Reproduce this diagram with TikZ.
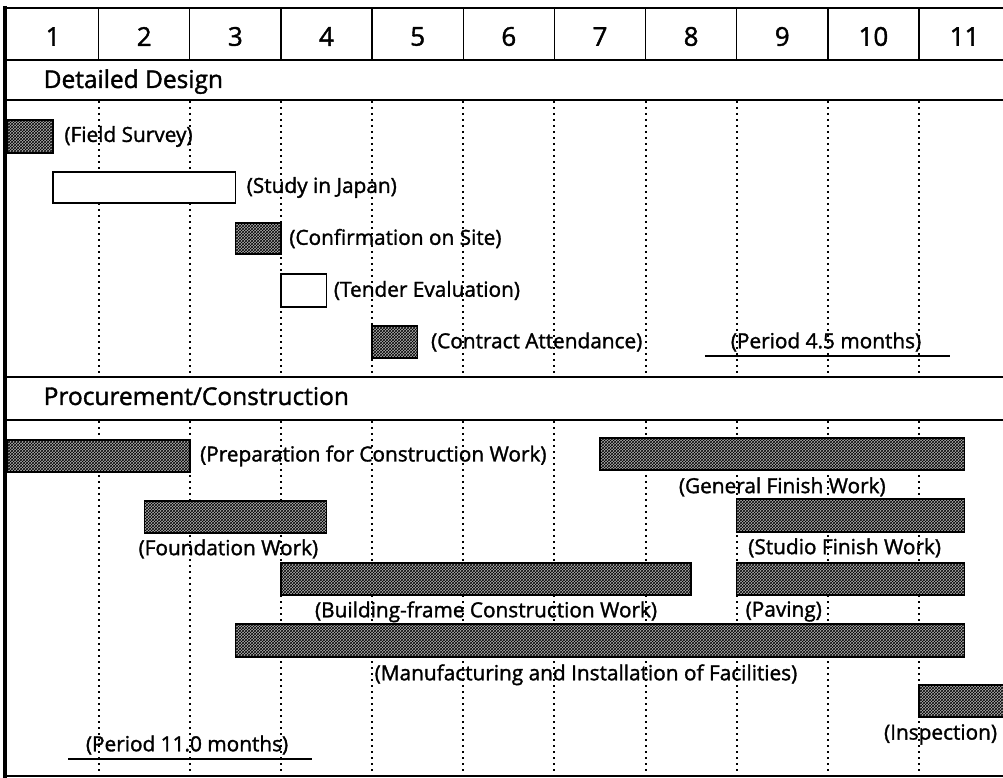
\documentclass[tikz,border=0pt]{standalone}
\usepackage{fontspec}
\setmainfont{Open Sans}[FakeBold=1.5]
\usetikzlibrary{positioning,fit,patterns}

\tikzset{
  hbar/.style={draw, line width=1.4pt, inner sep=0pt, preaction={fill=gray!62},
    pattern=crosshatch, pattern color=black},
  wbar/.style={draw, line width=1.4pt, inner sep=0pt, fill=white},
  lbl/.style={inner sep=1pt, font=\fontsize{20.8}{23}\selectfont},
  head/.style={inner sep=0pt, anchor=base west, font=\fontsize{24.5}{27}\selectfont},
  monthline/.style={line width=2pt, dash pattern=on 2pt off 4pt},
}

\begin{document}
\begin{tikzpicture}[x=91.15pt,y=-1pt,line width=1.3pt]
		\useasboundingbox (-0.0823,0) rectangle (10.9216,778);
		% frame and header
		\draw[line width=4pt] (-0.022,6) -- (-0.022,778);
		\draw (-0.022,8) -- (10.93,8);
		\foreach \y in {60,100,377,420,776}
		\draw (-0.022,\y) -- (10.93,\y);
		\foreach \m in {1,...,10}
		{
			\draw (\m,8) -- (\m,60);
			\draw[monthline] (\m,101) -- (\m,376);
			\draw[monthline] (\m,421) -- (\m,775);
		}
		\foreach \m [count=\i] in {0.5,1.5,...,10.5}
		\node[font=\fontsize{26}{28}\selectfont] (h\i) at (\m,36.5) {\i};
		
		\node[head] (dd) at (0.39,88) {Detailed Design};
		\node[head] (pc) at (0.39,405) {Procurement/Construction};
		
		% detailed design
		\node[hbar, fit={(0,120) (0.5,153)}] (fsb) {};
		\node[lbl, right=9pt of fsb] (fs) {(Field Survey)};
		\node[wbar, fit={(0.5,172) (2.5,203)}] (sjb) {};
		\node[lbl, right=9pt of sjb] (sj) {(Study in Japan)};
		\node[hbar, fit={(2.5,223) (3,254)}] (cob) {};
		\node[lbl, right=6pt of cob] (co) {(Confirmation on Site)};
		\node[wbar, fit={(3,274) (3.5,307)}] (teb) {};
		\node[lbl, right=5pt of teb] (te) {(Tender Evaluation)};
		\node[hbar, fit={(4,326) (4.5,358)}] (cab) {};
		\node[lbl, right=11pt of cab] (ca) {(Contract Attendance)};
		\node[lbl] (p1) at (8.98,342) {(Period 4.5 months)};
		\draw (7.65,356) -- (10.34,356);
		
		% procurement/construction
		\node[hbar, fit={(0,440) (2,472)}] (prb) {};
		\node[lbl, right=8pt of prb] (pr) {(Preparation for Construction Work)};
		\node[hbar, fit={(6.5,438) (10.5,470)}] (gfb) {};
		\node[lbl, below=5pt of gfb] (gf) {(General Finish Work)};
		\node[hbar, fit={(1.5,501) (3.5,533)}] (fob) {};
		\node[lbl, below=4pt of fob, xshift=-7pt] (fo) {(Foundation Work)};
		\node[hbar, fit={(8,499) (10.5,532)}] (sfb) {};
		\node[lbl, below=4pt of sfb, xshift=-6pt] (sf) {(Studio Finish Work)};
		\node[hbar, fit={(3,563) (7.5,595)}] (bfb) {};
		\node[lbl, below=4pt of bfb] (bf) {(Building-frame Construction Work)};
		\node[hbar, fit={(8,563) (10.5,595)}] (pvb) {};
		\node[lbl, below=4pt of pvb.south west, anchor=north west, xshift=8pt] (pv) {(Paving)};
		\node[hbar, fit={(2.5,624) (10.5,657)}] (mib) {};
		\node[lbl, below=5pt of mib, xshift=-14pt] (mi) {(Manufacturing and Installation of Facilities)};
		\node[hbar, fit={(10,685) (11,717)}] (inb) {};
		\node[lbl, below=5pt of inb, xshift=-24pt] (in) {(Inspection)};
		\node[lbl] (p2) at (1.97,745) {(Period 11.0 months)};
		\draw (0.664,759) -- (3.341,759);
\end{tikzpicture}
\end{document}
